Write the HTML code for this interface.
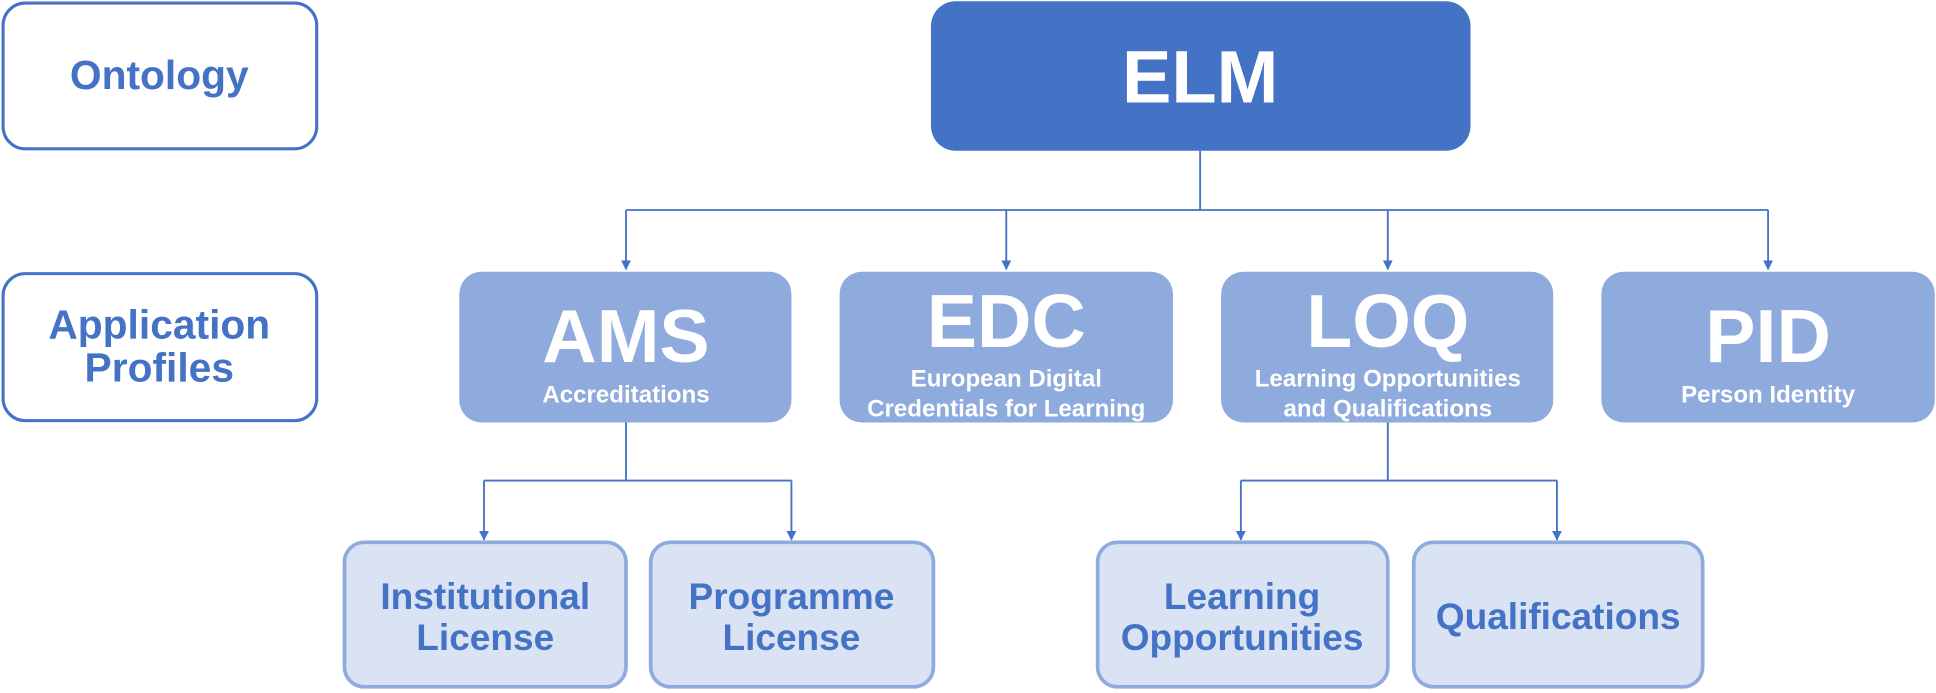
<!DOCTYPE html>
<html><head><meta charset="utf-8"><style>
html,body{margin:0;padding:0;background:#fff;}
svg{display:block;}
text{font-family:"Liberation Sans",Arial,sans-serif;font-weight:bold;text-anchor:middle;}
</style></head><body>
<svg width="1936" height="693" viewBox="0 0 1568 561" preserveAspectRatio="none" xmlns="http://www.w3.org/2000/svg">
<defs>
<marker id="a" viewBox="0 0 10 10" refX="9" refY="5" markerWidth="8" markerHeight="8" orient="auto" markerUnits="userSpaceOnUse"><path d="M0,0 L10,5 L0,10 z" fill="#4472c4"/></marker>
</defs>
<rect x="2.5" y="2.5" width="254" height="118" rx="18" fill="#fff" stroke="#4472c4" stroke-width="2.5"/>
<text x="129" y="72" font-size="33" fill="#4472c4">Ontology</text>
<rect x="2.5" y="221.5" width="254" height="119" rx="18" fill="#fff" stroke="#4472c4" stroke-width="2.5"/>
<text x="129" y="274" font-size="33" fill="#4472c4">Application</text>
<text x="129" y="309" font-size="33" fill="#4472c4">Profiles</text>
<rect x="754" y="1" width="437" height="121" rx="20" fill="#4472c4"/>
<text x="972" y="83" font-size="60" fill="#fff">ELM</text>
<g stroke="#4472c4" stroke-width="1.5" fill="none">
<path d="M972,122 V170 M507,170 H1432"/>
<path d="M507,170 V218" marker-end="url(#a)"/>
<path d="M815,170 V218" marker-end="url(#a)"/>
<path d="M1124,170 V218" marker-end="url(#a)"/>
<path d="M1432,170 V218" marker-end="url(#a)"/>
<path d="M507,342 V389 M392,389 H641"/>
<path d="M392,389 V437" marker-end="url(#a)"/>
<path d="M641,389 V437" marker-end="url(#a)"/>
<path d="M1124,342 V389 M1005,389 H1261"/>
<path d="M1005,389 V437" marker-end="url(#a)"/>
<path d="M1261,389 V437" marker-end="url(#a)"/>
</g>
<g fill="#8faadc">
<rect x="372" y="220" width="269" height="122" rx="18"/>
<rect x="680" y="220" width="270" height="122" rx="18"/>
<rect x="989" y="220" width="269" height="122" rx="18"/>
<rect x="1297" y="220" width="270" height="122" rx="18"/>
</g>
<g fill="#fff">
<text x="507" y="293" font-size="61">AMS</text>
<text x="507" y="326" font-size="19.5">Accreditations</text>
<text x="815" y="281" font-size="61">EDC</text>
<text x="815" y="313" font-size="19.5">European Digital</text>
<text x="815" y="337" font-size="19.5">Credentials for Learning</text>
<text x="1124" y="281" font-size="61">LOQ</text>
<text x="1124" y="313" font-size="19.5">Learning Opportunities</text>
<text x="1124" y="337" font-size="19.5">and Qualifications</text>
<text x="1432" y="293" font-size="61">PID</text>
<text x="1432" y="326" font-size="19.5">Person Identity</text>
</g>
<g fill="#dae3f3" stroke="#8faadc" stroke-width="3">
<rect x="279" y="439" width="228" height="117" rx="16"/>
<rect x="527" y="439" width="229" height="117" rx="16"/>
<rect x="889" y="439" width="235" height="117" rx="16"/>
<rect x="1145" y="439" width="234" height="117" rx="16"/>
</g>
<g fill="#4472c4" font-size="30">
<text x="393" y="493">Institutional</text>
<text x="393" y="526">License</text>
<text x="641" y="493">Programme</text>
<text x="641" y="526">License</text>
<text x="1006" y="493">Learning</text>
<text x="1006" y="526">Opportunities</text>
<text x="1262" y="509">Qualifications</text>
</g>
</svg>
</body></html>
